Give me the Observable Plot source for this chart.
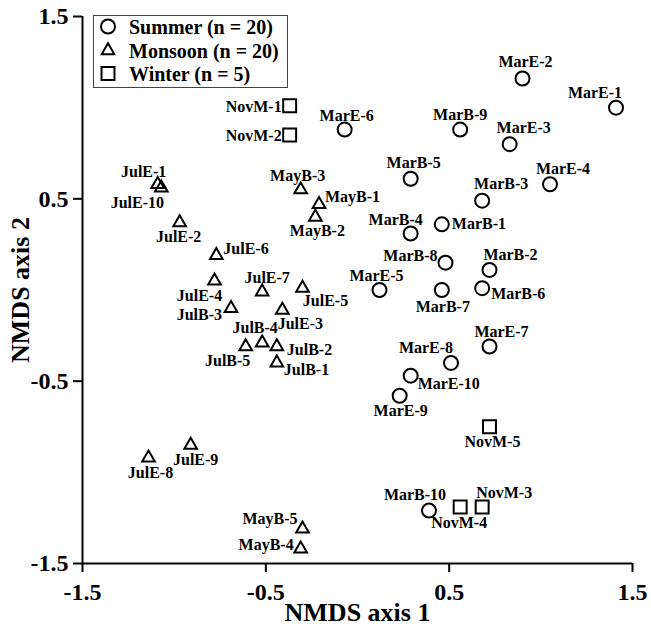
<!DOCTYPE html>
<html>
<head>
<meta charset="utf-8">
<script src="https://cdn.jsdelivr.net/npm/d3@7"></script>
<script src="https://cdn.jsdelivr.net/npm/@observablehq/plot@0.6"></script>
<style>
  html, body { margin: 0; padding: 0; background: white; }
  #chart { position: relative; width: 651px; height: 627px; }
</style>
</head>
<body>
<div id="chart"></div>
<script>
// ---------- data ----------
const axisDomain = [-1.5, 1.5];
const xTicks = [-1.5, -0.5, 0.5, 1.5];
const yTicks = [-1.5, -0.5, 0.5, 1.5];
const xTitle = "NMDS axis 1";
const yTitle = "NMDS axis 2";

const seasons = ["Summer", "Monsoon", "Winter"];
const legendLabels = ["Summer (n = 20)", "Monsoon (n = 20)", "Winter (n = 5)"];

const summerNames = ["MarE-1","MarE-2","MarE-3","MarE-4","MarE-5","MarE-6","MarE-7","MarE-8","MarE-9","MarE-10",
                     "MarB-1","MarB-2","MarB-3","MarB-4","MarB-5","MarB-6","MarB-7","MarB-8","MarB-9","MarB-10"];
const summerX = [1.41, 0.90, 0.83, 1.05, 0.12, -0.07, 0.72, 0.51, 0.23, 0.29,
                 0.46, 0.72, 0.68, 0.29, 0.29, 0.68, 0.46, 0.48, 0.56, 0.39];
const summerY = [1.00, 1.16, 0.80, 0.58, 0.00, 0.88, -0.31, -0.40, -0.58, -0.47,
                 0.36, 0.11, 0.49, 0.31, 0.61, 0.01, 0.00, 0.15, 0.88, -1.21];

const monsoonNames = ["JulE-1","JulE-10","JulE-2","JulE-3","JulE-4","JulE-5","JulE-6","JulE-7","JulE-8","JulE-9",
                      "JulB-1","JulB-2","JulB-3","JulB-4","JulB-5","MayB-1","MayB-2","MayB-3","MayB-4","MayB-5"];
const monsoonX = [-1.09, -1.07, -0.97, -0.41, -0.78, -0.30, -0.77, -0.52, -1.14, -0.91,
                  -0.44, -0.44, -0.69, -0.52, -0.61, -0.21, -0.23, -0.31, -0.31, -0.30];
const monsoonY = [0.58, 0.56, 0.37, -0.11, 0.05, 0.01, 0.19, -0.01, -0.92, -0.85,
                  -0.40, -0.31, -0.10, -0.29, -0.31, 0.47, 0.40, 0.55, -1.42, -1.31];

const winterNames = ["NovM-1","NovM-2","NovM-3","NovM-4","NovM-5"];
const winterX = [-0.37, -0.37, 0.68, 0.56, 0.72];
const winterY = [1.01, 0.85, -1.19, -1.19, -0.75];

// label placement (text anchor, pixel dx, pixel dy), aligned with the name arrays
const summerLabelPos = [["middle",-21,-15],["middle",3,-17],["middle",14,-16],["middle",13,-15],["middle",-3,-14],
                        ["middle",2,-14],["middle",12,-15],["middle",-25,-15],["middle",1,15],["start",7,8],
                        ["start",10,0],["middle",21,-15],["middle",19,-17],["middle",-15,-14],["middle",3,-16],
                        ["start",9,6],["middle",1,17],["end",-8,-7],["middle",0,-15],["middle",-14,-16]];
const monsoonLabelPos = [["middle",-14,-12],["middle",-24,15],["middle",-1,14],["middle",18,14],["middle",-15,15],
                         ["middle",23,13],["start",7,-6],["middle",5,-14],["middle",2,15],["middle",5,15],
                         ["start",7,7],["start",10,3],["end",-9,7],["middle",-7,-15],["middle",-18,14],
                         ["start",6,-7],["middle",2,14],["middle",-3,-14],["end",-7,-4],["end",-5,-10]];
const winterLabelPos = [["end",-8,1],["end",-8,1],["middle",22,-14],["middle",-1,16],["middle",3,15]];

// ---------- build table ----------
function rows(names, xs, ys, pos, season) {
  return names.map((n, i) => ({name: n, x: xs[i], y: ys[i], season, anchor: pos[i][0], dx: pos[i][1], dy: pos[i][2]}));
}
const points = [
  ...rows(summerNames, summerX, summerY, summerLabelPos, "Summer"),
  ...rows(monsoonNames, monsoonX, monsoonY, monsoonLabelPos, "Monsoon"),
  ...rows(winterNames, winterX, winterY, winterLabelPos, "Winter")
];

const symbolOf = {Summer: "circle", Monsoon: "triangle", Winter: "square"};
const rOf = {Summer: 7, Monsoon: 4.7, Winter: 7.3};
const d3SymbolOf = {Summer: d3.symbolCircle, Monsoon: d3.symbolTriangle, Winter: d3.symbolSquare};

const serif = "'Liberation Serif', 'Times New Roman', Times, serif";

const dotMarks = seasons.map(s => Plot.dot(points.filter(d => d.season === s), {
  x: "x", y: "y", symbol: () => symbolOf[s], r: rOf[s], stroke: "black", strokeWidth: 2, fill: "none"
}));

const labelMarks = points.map(d => Plot.text([d], {
  x: "x", y: "y", text: "name", textAnchor: d.anchor, dx: d.dx, dy: d.dy,
  fontSize: 16, fontWeight: "bold", fill: "black"
}));

const chart = Plot.plot({
  width: 651,
  height: 627,
  marginLeft: 82,
  marginRight: 19,
  marginTop: 16,
  marginBottom: 64,
  x: {domain: axisDomain},
  y: {domain: axisDomain},
  symbol: {type: "identity"},
  style: {fontFamily: serif, fontWeight: "bold", color: "black", background: "white", overflow: "visible"},
  marks: [
    Plot.ruleY([axisDomain[0]], {stroke: "black", strokeWidth: 2}),
    Plot.ruleX([axisDomain[0]], {stroke: "black", strokeWidth: 2}),
    Plot.axisX({ticks: xTicks, tickSize: 9, tickPadding: 10, fontSize: 24, fontWeight: "bold",
                strokeWidth: 2, label: null, tickFormat: d => String(d)}),
    Plot.axisY({ticks: yTicks, tickSize: 9, tickPadding: 5, fontSize: 24, fontWeight: "bold",
                strokeWidth: 2, label: null, tickFormat: d => String(d)}),
    Plot.text([xTitle], {frameAnchor: "bottom", dy: 49, lineAnchor: "middle", textAnchor: "middle",
                         fontSize: 26, fontWeight: "bold", fill: "black"}),
    Plot.text([yTitle], {frameAnchor: "left", dx: -62, rotate: -90, lineAnchor: "middle", textAnchor: "middle",
                         fontSize: 26, fontWeight: "bold", fill: "black"}),
    ...dotMarks,
    ...labelMarks
  ]
});

document.getElementById("chart").appendChild(chart);

// ---------- legend (boxed, top-left inside plot) ----------
const svg = d3.select(chart);
const lg = svg.append("g").attr("transform", "translate(93.5,15.5)");
lg.append("rect").attr("width", 194).attr("height", 72)
  .attr("fill", "white").attr("stroke", "#444").attr("stroke-width", 1);
const rowY = [11, 35, 58];
seasons.forEach((s, i) => {
  lg.append("path")
    .attr("transform", `translate(14.5,${rowY[i]})`)
    .attr("d", d3.symbol(d3SymbolOf[s], Math.PI * rOf[s] * rOf[s])())
    .attr("fill", "none").attr("stroke", "black").attr("stroke-width", 2);
  lg.append("text")
    .attr("x", 35.5).attr("y", rowY[i]).attr("dy", "0.35em")
    .attr("text-anchor", "start")
    .attr("font-size", 20).attr("font-weight", "bold").attr("font-family", serif)
    .attr("fill", "black")
    .text(legendLabels[i]);
});
</script>
</body>
</html>
